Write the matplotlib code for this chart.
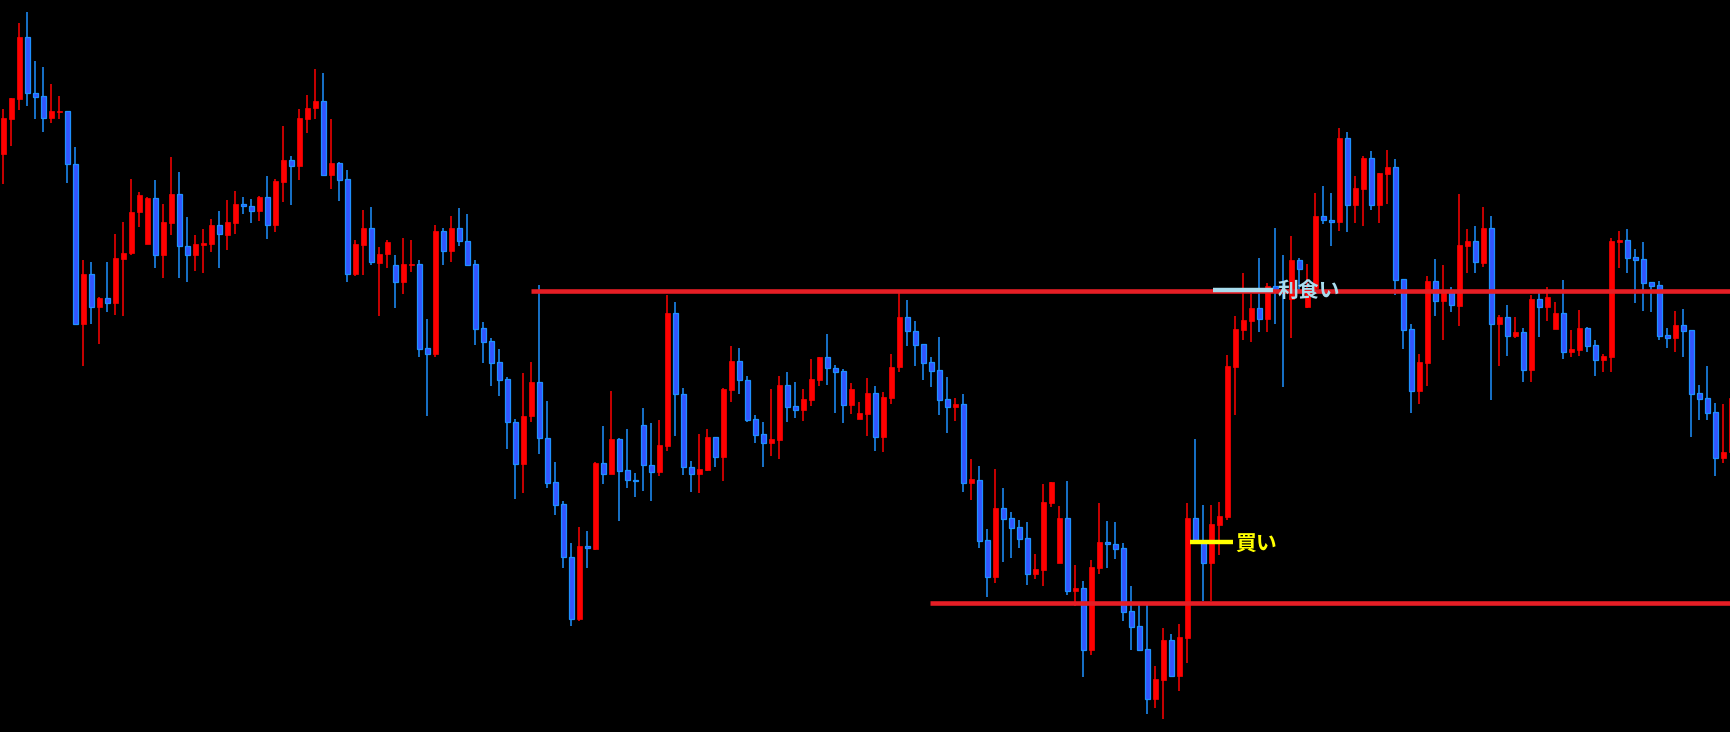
import numpy as np
import matplotlib
matplotlib.use('Agg')  # no display
import matplotlib.pyplot as plt

plt.rcParams['font.family'] = ['Noto Sans CJK JP', 'DejaVu Sans']

# OHLC (no price axis shown, so values are in screen units:
# a smaller number sits higher on the chart)
opens = [
    329, 255, 211, 79, 199, 206, 252, 240, 238, 351,
    695, 587, 657, 638, 648, 554, 543, 455, 522, 424,
    547, 477, 416, 526, 547, 524, 523, 482, 503, 477,
    437, 441, 451, 422, 481, 389, 343, 355, 255, 232,
    216, 374, 349, 383, 587, 524, 488, 563, 545, 568,
    605, 568, 566, 745, 759, 495, 537, 488, 516, 566,
    703, 730, 775, 812, 904, 993, 892, 818, 938, 1032,
    1080, 1193, 1325, 1170, 1175, 992, 1016, 940, 1007, 1028,
    910, 996, 1010, 955, 670, 844, 1000, 1016, 1007, 936,
    978, 835, 773, 814, 898, 930, 950, 943, 825, 870,
    879, 857, 813, 765, 788, 795, 867, 897, 887, 842,
    937, 853, 787, 679, 709, 737, 775, 793, 855, 871,
    865, 1034, 1028, 1157, 1237, 1088, 1110, 1129, 1152, 1229,
    1221, 1077, 1207, 1110, 1265, 1260, 1393, 1217, 1161, 1165,
    1174, 1309, 1341, 1390, 1497, 1457, 1371, 1448, 1367, 1110,
    1160, 1207, 1125, 1107, 786, 707, 688, 660, 683, 613,
    618, 640, 557, 657, 617, 463, 471, 475, 296, 440,
    405, 338, 440, 372, 358, 598, 705, 837, 777, 602,
    644, 622, 655, 527, 516, 563, 488, 695, 679, 719,
    711, 792, 640, 657, 705, 670, 753, 749, 703, 739,
    771, 765, 518, 514, 551, 555, 604, 610, 717, 723,
    696, 707, 842, 853, 883, 980, 969,
]
highs = [
    233, 210, 49, 26, 131, 144, 180, 206, 238, 315,
    557, 561, 636, 561, 501, 476, 383, 411, 422, 386,
    437, 336, 368, 465, 503, 491, 469, 452, 428, 409,
    422, 426, 420, 377, 383, 270, 334, 233, 203, 148,
    156, 255, 347, 364, 515, 450, 443, 529, 515, 546,
    510, 514, 557, 683, 482, 488, 463, 446, 458, 557,
    690, 724, 748, 808, 898, 799, 775, 610, 859, 990,
    1073, 1163, 1129, 1137, 990, 913, 838, 938, 919, 1013,
    874, 906, 900, 632, 647, 831, 987, 930, 919, 936,
    831, 741, 745, 805, 889, 904, 833, 805, 797, 818,
    833, 769, 765, 715, 782, 790, 820, 861, 810, 827,
    840, 758, 628, 643, 688, 737, 765, 722, 808, 853,
    844, 983, 998, 1133, 1005, 1045, 1097, 1114, 1118, 1187,
    1037, 1032, 1084, 1030, 1210, 1245, 1200, 1077, 1116, 1118,
    1163, 1255, 1297, 1297, 1427, 1345, 1358, 1337, 1077, 940,
    1082, 1082, 1075, 760, 677, 585, 630, 553, 607, 488,
    546, 506, 553, 566, 413, 398, 413, 274, 283, 378,
    334, 323, 371, 321, 341, 598, 694, 758, 591, 555,
    568, 615, 416, 491, 484, 443, 463, 675, 653, 679,
    703, 632, 628, 615, 647, 600, 707, 664, 700, 728,
    758, 510, 495, 491, 533, 518, 604, 602, 703, 666,
    662, 707, 825, 784, 863, 865, 840,
]
lows = [
    395, 313, 235, 227, 255, 283, 263, 255, 392, 695,
    783, 695, 737, 669, 675, 677, 547, 487, 522, 575,
    595, 503, 595, 605, 581, 585, 539, 575, 535, 501,
    458, 477, 473, 513, 497, 433, 440, 385, 285, 255,
    377, 405, 431, 603, 591, 589, 568, 677, 574, 660,
    630, 583, 765, 892, 765, 568, 561, 527, 567, 738,
    777, 826, 849, 961, 1068, 1055, 905, 972, 1045, 1103,
    1217, 1340, 1331, 1217, 1179, 1036, 1016, 1115, 1045, 1064,
    1051, 1074, 1019, 967, 935, 1017, 1053, 1057, 1009, 1001,
    1031, 862, 845, 904, 950, 1001, 976, 983, 905, 895,
    901, 869, 827, 825, 884, 907, 887, 897, 935, 967,
    969, 865, 797, 741, 783, 815, 830, 890, 927, 901,
    1053, 1070, 1173, 1278, 1248, 1203, 1196, 1173, 1254, 1241,
    1256, 1087, 1207, 1274, 1299, 1451, 1403, 1229, 1217, 1197,
    1330, 1393, 1393, 1529, 1517, 1540, 1450, 1481, 1421, 1157,
    1287, 1287, 1189, 1113, 890, 729, 733, 711, 711, 693,
    829, 723, 625, 660, 625, 480, 527, 495, 498, 477,
    484, 450, 477, 437, 632, 747, 885, 865, 827, 677,
    729, 669, 699, 585, 585, 572, 857, 785, 762, 725,
    819, 819, 721, 687, 705, 768, 765, 762, 753, 805,
    797, 797, 574, 585, 649, 666, 669, 728, 745, 753,
    765, 937, 899, 899, 1019, 991, 975,
]
closes = [
    253, 210, 79, 200, 207, 252, 238, 238, 352, 695,
    587, 657, 638, 648, 553, 542, 454, 418, 424, 547,
    476, 416, 526, 547, 523, 521, 482, 502, 476, 437,
    442, 451, 422, 481, 388, 343, 355, 253, 231, 216,
    374, 349, 385, 587, 523, 488, 562, 544, 518, 605,
    566, 566, 747, 759, 495, 537, 488, 517, 567, 705,
    732, 777, 813, 905, 993, 891, 818, 939, 1034, 1081,
    1194, 1325, 1170, 1174, 992, 1016, 940, 1008, 1029, 1031,
    997, 1010, 953, 670, 845, 1001, 1016, 1005, 936, 978,
    833, 773, 815, 899, 931, 950, 940, 825, 871, 879,
    855, 812, 765, 789, 796, 867, 833, 885, 842, 937,
    850, 786, 679, 710, 738, 777, 794, 856, 871, 865,
    1034, 1027, 1158, 1237, 1088, 1111, 1130, 1154, 1229, 1219,
    1075, 1032, 1110, 1265, 1260, 1392, 1215, 1161, 1166, 1175,
    1310, 1343, 1392, 1497, 1454, 1371, 1448, 1365, 1110, 1157,
    1207, 1122, 1105, 784, 705, 685, 660, 683, 613, 620,
    624, 557, 577, 625, 463, 472, 475, 296, 440, 403,
    338, 440, 371, 358, 600, 706, 837, 775, 601, 644,
    622, 654, 525, 516, 562, 488, 695, 679, 719, 711,
    792, 640, 657, 636, 670, 753, 748, 703, 741, 771,
    763, 516, 514, 552, 556, 606, 612, 719, 723, 696,
    708, 843, 854, 884, 980, 968, 853,
]

# horizontal levels drawn on the chart
resistance_level = 624
support_level = 1292
take_profit_level = 622
buy_level = 1160

opens = np.array(opens)
highs = np.array(highs)
lows = np.array(lows)
closes = np.array(closes)
x = np.arange(len(opens))
up = closes < opens  # up candle (price rose) -> red

fig = plt.figure(figsize=(17.31, 7.32), dpi=100, facecolor='black')
ax = fig.add_axes([0, 0, 1, 1])
ax.set_facecolor('black')
ax.axis('off')

red = '#ff0000'
blue_fill = '#3355ff'
blue_edge = '#1e90ff'

# wicks
ax.vlines(x[up], highs[up], lows[up], color=red, lw=1.1, zorder=2)
ax.vlines(x[~up], highs[~up], lows[~up], color=blue_edge, lw=1.1, zorder=2)

# bodies
body_lo = np.minimum(opens, closes)
body_h = np.maximum(np.abs(opens - closes), 2)
ax.bar(x[up], body_h[up], bottom=body_lo[up], width=0.62,
       color=red, edgecolor=red, linewidth=0.5, zorder=3)
ax.bar(x[~up], body_h[~up], bottom=body_lo[~up], width=0.62,
       color=blue_fill, edgecolor=blue_edge, linewidth=0.9, zorder=3)

x_left = -0.4125
x_right = x_left + 1731 / 8
ax.set_xlim(x_left, x_right)
ax.set_ylim(1568, 0)

line_red = '#e61e25'
ax.hlines(resistance_level, 66, x_right + 1, color=line_red, lw=3.3, zorder=4)
ax.hlines(support_level, 115.9, x_right + 1, color=line_red, lw=3.3, zorder=4)
ax.hlines(take_profit_level, 151.2, 158.7, color='#a8dced', lw=3.2, zorder=5)
ax.hlines(buy_level, 148.3, 153.7, color='#ffff00', lw=3.2, zorder=5)

ax.text(159.3, take_profit_level, '利食い', color='#a8dced', fontsize=15,
        fontweight='bold', ha='left', va='center', zorder=6)
ax.text(153.95, buy_level + 5, '買い', color='#ffff00', fontsize=15,
        fontweight='bold', ha='left', va='center', zorder=6)

fig.savefig('out.png', dpi=100, facecolor='black')
plt.close(fig)
